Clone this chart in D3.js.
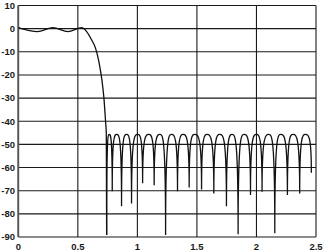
<!DOCTYPE html>
<html>
<head>
<meta charset="utf-8">
<script src="https://cdn.jsdelivr.net/npm/d3@7"></script>
<style>
  body { margin: 0; background: #fff; }
  svg { display: block; }
  text { font-family: "Liberation Sans", Arial, sans-serif; font-size: 9.5px; font-weight: bold; fill: #1a1a1a; }
</style>
</head>
<body>
<svg id="chart" width="325" height="252"></svg>
<script>
const xTicks = [0, 0.5, 1, 1.5, 2, 2.5];
const xTickLabels = ['0', '0.5', '1', '1.5', '2', '2.5'];
const yTicks = [10, 0, -10, -20, -30, -40, -50, -60, -70, -80, -90];

// passband ripple and transition band
const passFreq = [0, 0.161, 0.291, 0.417, 0.532, 0.574, 0.616, 0.649, 0.677, 0.700, 0.719, 0.733, 0.739, 0.742];
const passDb   = [0.4, -1.3, 0.4, -1.3, 0.4, -1.3, -4.9, -8.5, -14.3, -21.4, -30, -40.2, -45, -89.1];

// stopband nulls
const nullFreq = [0.742, 0.789, 0.867, 0.951, 1.044, 1.141, 1.237, 1.337, 1.435,
                  1.539, 1.642, 1.748, 1.846, 1.950, 2.047, 2.154, 2.260, 2.363];
const nullDb   = [-89.1, -70.2, -76.7, -75.5, -66.8, -67.6, -89.1, -70.2, -68.6,
                  -69.5, -71.2, -76.7, -88.8, -71.9, -70.5, -88.4, -71.9, -71.2];

// stopband lobe tops
const peakFreq = [0.763, 0.826, 0.909, 1.002, 1.096, 1.189, 1.287, 1.384, 1.482,
                  1.585, 1.692, 1.795, 1.896, 2.000, 2.103, 2.204, 2.307, 2.411];
const peakDb   = [-45.7, -45.7, -45.7, -45.7, -45.7, -45.7, -45.7, -45.7, -45.7,
                  -45.7, -45.7, -45.7, -45.7, -45.7, -45.7, -45.7, -45.7, -45.7];

// last point of the trace
const endFreq = [2.461];
const endDb = [-62.3];

const svg = d3.select('#chart');
const margin = { left: 18.3, right: 9, top: 5.5, bottom: 15 };
const width = 325;
const height = 252;

const x = d3.scaleLinear().domain([0, 2.5]).range([margin.left, width - margin.right]);
const y = d3.scaleLinear().domain([-90, 10]).range([height - margin.bottom, margin.top]);

// grid
const grid = svg.append('g').attr('stroke', '#1a1a1a').attr('stroke-width', 1.1);
grid.selectAll('.vx').data(xTicks).enter().append('line')
  .attr('x1', d => x(d)).attr('x2', d => x(d))
  .attr('y1', y(10)).attr('y2', y(-90));
grid.selectAll('.hy').data(yTicks).enter().append('line')
  .attr('x1', x(0)).attr('x2', x(2.5))
  .attr('y1', d => y(d)).attr('y2', d => y(d));

// left axis is a bit heavier in the picture
svg.append('line')
  .attr('x1', x(0)).attr('x2', x(0)).attr('y1', y(10)).attr('y2', y(-90))
  .attr('stroke', '#555').attr('stroke-width', 1.8);

// tick labels
svg.selectAll('.ylab').data(yTicks).enter().append('text')
  .attr('x', 15).attr('y', d => y(d)).attr('dy', '0.35em')
  .attr('text-anchor', 'end')
  .text(d => d);

svg.selectAll('.xlab').data(xTicks).enter().append('text')
  .attr('x', d => x(d)).attr('y', 250)
  .attr('text-anchor', 'middle')
  .text((d, i) => xTickLabels[i]);

// passband + transition
const passLine = d3.line()
  .x((d, i) => x(passFreq[i]))
  .y((d, i) => y(passDb[i]))
  .curve(d3.curveMonotoneX);

svg.append('path')
  .attr('d', passLine(passFreq))
  .attr('fill', 'none').attr('stroke', '#111').attr('stroke-width', 1.3);

// stopband lobes: vertical at each null, round on top
const p = d3.path();
p.moveTo(x(nullFreq[0]), y(nullDb[0]));
for (let i = 0; i < peakFreq.length; i++) {
  const x0 = x(nullFreq[i]);
  const xp = x(peakFreq[i]);
  const yp = y(peakDb[i]);
  const last = i + 1 >= nullFreq.length;
  const x1 = last ? x(endFreq[0]) : x(nullFreq[i + 1]);
  const y1 = last ? y(endDb[0]) : y(nullDb[i + 1]);
  p.bezierCurveTo(x0, yp, (x0 + xp) / 2, yp, xp, yp);
  p.bezierCurveTo((xp + x1) / 2, yp, x1, yp, x1, y1);
}
svg.append('path')
  .attr('d', p.toString())
  .attr('fill', 'none').attr('stroke', '#111').attr('stroke-width', 1.3)
  .attr('stroke-linejoin', 'miter');
</script>
</body>
</html>
